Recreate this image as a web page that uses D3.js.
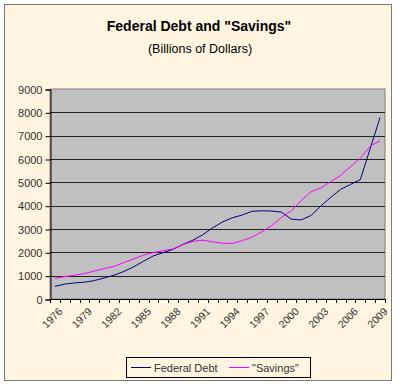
<!DOCTYPE html>
<html>
<head>
<meta charset="utf-8">
<script src="https://cdn.jsdelivr.net/npm/d3@7"></script>
<style>
  html, body { margin: 0; padding: 0; background: #fff; }
  svg text { font-family: "Liberation Sans", Arial, sans-serif; }
</style>
</head>
<body>
<div id="chart"></div>
<script>
// Data
var years = d3.range(1976, 2010);
var federalDebt = [540, 640, 690, 720, 790, 900, 1020, 1180, 1380, 1620,
                   1850, 1990, 2130, 2340, 2520, 2750, 3050, 3300, 3480, 3600,
                   3760, 3780, 3770, 3720, 3420, 3390, 3580, 3990, 4360, 4700,
                   4910, 5120, 6450, 7780];
var savings = [880, 960, 1020, 1090, 1200, 1300, 1400, 1560, 1720, 1880,
               1990, 2070, 2150, 2330, 2470, 2520, 2450, 2390, 2380, 2500,
               2650, 2880, 3150, 3500, 3780, 4220, 4600, 4760, 5030, 5300,
               5670, 6040, 6550, 6790];
var yTicks = [0, 1000, 2000, 3000, 4000, 5000, 6000, 7000, 8000, 9000];
var xLabelYears = d3.range(1976, 2010, 3);

var width = 400;
var height = 387;
var plot = {left: 50, right: 385, top: 89, bottom: 299};

var svg = d3.select('#chart')
            .append('svg')
            .attr('width', width)
            .attr('height', height);

// Outer frame
svg.append('rect')
   .attr('x', 4.5).attr('y', 4.5)
   .attr('width', 387).attr('height', 376)
   .attr('fill', '#fff5e0')
   .attr('stroke', '#7a7a7a');

// Titles
svg.append('text')
   .attr('x', 199).attr('y', 31)
   .attr('text-anchor', 'middle')
   .attr('font-size', 14).attr('font-weight', 'bold')
   .text('Federal Debt and "Savings"');
svg.append('text')
   .attr('x', 200).attr('y', 53)
   .attr('text-anchor', 'middle')
   .attr('font-size', 12.5)
   .text('(Billions of Dollars)');

// Scales
var xScale = d3.scaleBand()
               .domain(years)
               .range([plot.left, plot.right]);
var yScale = d3.scaleLinear()
               .domain([0, 9000])
               .range([plot.bottom, plot.top]);

// Plot area
svg.append('rect')
   .attr('x', plot.left).attr('y', plot.top)
   .attr('width', plot.right - plot.left)
   .attr('height', plot.bottom - plot.top)
   .attr('fill', '#c0c0c0')
   .attr('stroke', '#808080');

// Gridlines
svg.append('g')
   .selectAll('line')
   .data(yTicks.filter(function(d) { return d > 0 && d < 9000; }))
   .enter()
   .append('line')
   .attr('x1', plot.left).attr('x2', plot.right)
   .attr('y1', function(d) { return Math.round(yScale(d)) + 0.5; })
   .attr('y2', function(d) { return Math.round(yScale(d)) + 0.5; })
   .attr('stroke', '#222');

// Y-Axis
var yAxis = d3.axisLeft(yScale)
              .tickValues(yTicks)
              .tickFormat(d3.format('d'))
              .tickSize(5)
              .tickPadding(3);
var yG = svg.append('g')
            .attr('transform', 'translate(' + (plot.left + 0.5) + ',0.5)')
            .call(yAxis);
yG.selectAll('text').attr('font-size', 11).attr('fill', '#333')
  .attr('font-family', '"Liberation Sans", Arial, sans-serif');
yG.selectAll('line, path').attr('stroke', '#000');

// X-Axis: ticks between categories
var xG = svg.append('g');
xG.append('line')
  .attr('x1', plot.left).attr('x2', plot.right)
  .attr('y1', plot.bottom + 0.5).attr('y2', plot.bottom + 0.5)
  .attr('stroke', '#000');
xG.selectAll('line.tick')
  .data(years.concat([2010]))
  .enter()
  .append('line')
  .attr('class', 'tick')
  .attr('x1', function(d) { return Math.round(d === 2010 ? plot.right : xScale(d)) + 0.5; })
  .attr('x2', function(d) { return Math.round(d === 2010 ? plot.right : xScale(d)) + 0.5; })
  .attr('y1', plot.bottom).attr('y2', plot.bottom + 4)
  .attr('stroke', '#000');
xG.selectAll('text')
  .data(xLabelYears)
  .enter()
  .append('text')
  .attr('transform', function(d) {
    var x = xScale(d) + xScale.bandwidth() / 2 + 3;
    return 'translate(' + x + ',' + (plot.bottom + 8) + ') rotate(-45)';
  })
  .attr('text-anchor', 'end')
  .attr('dy', '0.7em')
  .attr('font-size', 10.5)
  .attr('fill', '#333')
  .text(function(d) { return d; });

// Lines
var line = d3.line()
             .x(function(d, i) { return xScale(years[i]) + xScale.bandwidth() / 2; })
             .y(function(d) { return yScale(d); });
svg.append('path')
   .datum(federalDebt)
   .attr('d', line)
   .attr('fill', 'none')
   .attr('stroke', '#000080')
   .attr('stroke-width', 1);
svg.append('path')
   .datum(savings)
   .attr('d', line)
   .attr('fill', 'none')
   .attr('stroke', '#ff00ff')
   .attr('stroke-width', 1);

// Legend
var legend = svg.append('g');
legend.append('rect')
      .attr('x', 126.5).attr('y', 357.5)
      .attr('width', 184).attr('height', 20)
      .attr('fill', '#fff5e0')
      .attr('stroke', '#000');
var items = [{name: 'Federal Debt', color: '#000080', x: 131},
             {name: '"Savings"', color: '#ff00ff', x: 229}];
items.forEach(function(it) {
  legend.append('line')
        .attr('x1', it.x).attr('x2', it.x + 20)
        .attr('y1', 367.5).attr('y2', 367.5)
        .attr('stroke', it.color);
  legend.append('text')
        .attr('x', it.x + 23).attr('y', 371.5)
        .attr('font-size', 11)
        .attr('fill', '#333')
        .text(it.name);
});
</script>
</body>
</html>
